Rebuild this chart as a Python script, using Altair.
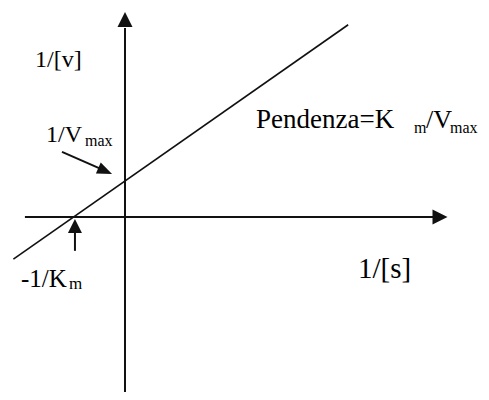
import altair as alt
import pandas as pd

# Lineweaver-Burk diagram, in plot units (1 unit ~ 1/Vmax)
# data line (two end points)
line_x = [-3.1, 6.2]
line_y = [-1.17, 5.34]

# axes shafts
xaxis_x = [-2.78, 8.6]
yaxis_y = [-5.0, 5.25]

# arrowhead centres
xhead = (8.75, 0.0)
yhead = (0.0, 5.49)

# annotation arrows
km_x = -1.39
km_shaft_y = [-0.94, -0.42]
km_head_y = -0.25

vmax_shaft_x = [-1.75, -0.61]
vmax_shaft_y = [1.81, 1.31]
vmax_head = (-0.55, 1.28)

X_DOMAIN = [-3.25, 9.889]
Y_DOMAIN = [-4.861, 5.806]

xs = alt.Scale(domain=X_DOMAIN, nice=False, zero=False)
ys = alt.Scale(domain=Y_DOMAIN, nice=False, zero=False)

INK = "#111111"
FONT = "Liberation Serif"


def seg(xv, yv, width):
    df = pd.DataFrame({"x": xv, "y": yv})
    return alt.Chart(df).mark_line(color=INK, strokeWidth=width, strokeCap="butt").encode(
        x=alt.X("x:Q", scale=xs, axis=None),
        y=alt.Y("y:Q", scale=ys, axis=None),
        order=alt.Order("x:Q"),
    )


def head(pos, shape, size, angle=0):
    df = pd.DataFrame({"x": [pos[0]], "y": [pos[1]]})
    return alt.Chart(df).mark_point(
        shape=shape, size=size, filled=True, color=INK, opacity=1, angle=angle, strokeWidth=0
    ).encode(
        x=alt.X("x:Q", scale=xs, axis=None),
        y=alt.Y("y:Q", scale=ys, axis=None),
    )


def label(text, x, y, size):
    df = pd.DataFrame({"t": [text], "x": [x], "y": [y]})
    return alt.Chart(df).mark_text(
        font=FONT, fontSize=size, align="left", baseline="alphabetic", color="#000000"
    ).encode(
        x=alt.X("x:Q", scale=xs, axis=None),
        y=alt.Y("y:Q", scale=ys, axis=None),
        text="t:N",
    )


RIGHT = "M-1,-1L1,0L-1,1Z"
UP = "M-1,1L1,1L0,-1Z"
RIGHT_NARROW = "M-1,-0.8L1,0L-1,0.8Z"

layers = [
    seg(xaxis_x, [0, 0], 2),
    seg([0, 0], yaxis_y, 2),
    head(xhead, RIGHT, 225),
    head(yhead, UP, 225),
    seg(line_x, line_y, 1.6),
    seg([km_x, km_x], km_shaft_y, 2),
    head((km_x, km_head_y), UP, 196),
    seg(vmax_shaft_x, vmax_shaft_y, 2),
    head(vmax_head, RIGHT_NARROW, 225, 23.75),
    label("1/[v]", -2.5, 4.167, 24),
    label("1/V", -2.194, 2.083, 24),
    label("max", -1.111, 1.972, 16),
    label("Pendenza=K", 3.639, 2.472, 27),
    label("m", 8.03, 2.333, 16),
    label("/V", 8.36, 2.472, 26),
    label("max", 9.03, 2.333, 16),
    label("-1/K", -2.889, -1.944, 25),
    label("m", -1.556, -2.0, 17),
    label("1/[s]", 6.472, -1.694, 29),
]

chart = alt.layer(*layers).properties(
    width=473, height=384, padding=0, autosize=alt.AutoSizeParams(type="none")
).configure_view(stroke=None)

chart.save("out.html", embed_options={"renderer": "svg", "actions": False})
